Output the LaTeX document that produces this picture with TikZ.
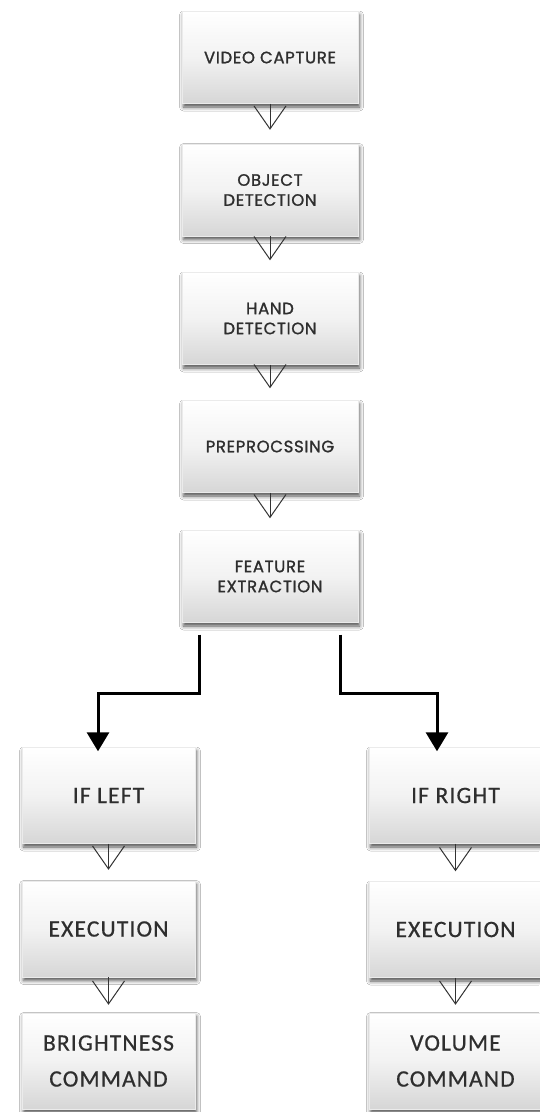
\documentclass[tikz,border=0pt]{standalone}
\usepackage{fontspec}
\setmainfont{Carlito}
\newfontfamily\gothic{Poppins}[LetterSpace=4,FakeBold=1.2]
\newfontfamily\plain{Carlito}[LetterSpace=5,FakeBold=0.6]
\usetikzlibrary{arrows.meta,shadows.blur}

\definecolor{boxtext}{HTML}{2E2E2E}
\definecolor{boxshade}{HTML}{D6D6D6}

\tikzset{
  box/.style={
    rectangle, inner sep=0pt, align=center, text=boxtext,
    top color=white, bottom color=boxshade, middle color=white!95!black,
    draw=black!8, line width=0.4pt,
    blur shadow={shadow xshift=1.5pt, shadow yshift=-3.5pt,
                 shadow blur radius=4pt, shadow opacity=70}},
  upperbox/.style={box, minimum width=176pt, minimum height=92pt,
    font=\gothic\fontsize{16.5}{20}\selectfont},
  lowerbox/.style={box, minimum width=173pt, minimum height=96pt,
    font=\plain\fontsize{23.5}{36}\selectfont},
  smallarrow/.style={draw=black!80, line width=1pt,
    -{Straight Barb[length=23pt,width=32pt,line width=1pt]}},
  bigarrow/.style={draw=black, line width=3pt,
    -{Triangle[length=19pt,width=22pt]}}
}

\begin{document}
\begin{tikzpicture}[x=1pt,y=-1pt]
  \useasboundingbox (0,0) rectangle (539,1112);
  \fill[white] (0,0) rectangle (539,1112);

  % main pipeline
  \node[upperbox] (vc) at (270,57.5) {VIDEO CAPTURE};
  \node[upperbox] (od) at (270,190) {OBJECT\\DETECTION};
  \node[upperbox] (hd) at (270,318.5) {HAND\\DETECTION};
  \node[upperbox] (pp) at (270,446.5) {PREPROCSSING};
  \node[upperbox] (fe) at (270,576.5) {FEATURE\\EXTRACTION};

  % left branch
  \node[lowerbox] (ifl) at (108.5,795.5) {IF LEFT};
  \node[lowerbox] (exl) at (108.5,929) {EXECUTION};
  \node[lowerbox] (brc) at (108.5,1061) {BRIGHTNESS\\COMMAND};

  % right branch
  \node[lowerbox] (ifr) at (455.5,795.5) {IF RIGHT};
  \node[lowerbox] (exr) at (455.5,929.5) {EXECUTION};
  \node[lowerbox] (vol) at (455.5,1061) {VOLUME\\COMMAND};

  % small arrows between stacked boxes
  \draw[smallarrow, shorten >=14pt] (vc.south) -- (od.north);
  \draw[smallarrow, shorten >=12pt] (od.south) -- (hd.north);
  \draw[smallarrow, shorten >=12pt] (hd.south) -- (pp.north);
  \draw[smallarrow, shorten >=12pt] (pp.south) -- (fe.north);
  \draw[smallarrow, shorten >=11pt] (ifl.south) -- (exl.north);
  \draw[smallarrow, shorten >=8pt] (exl.south) -- (brc.north);
  \draw[smallarrow, shorten >=10pt] (ifr.south) -- (exr.north);
  \draw[smallarrow, shorten >=8pt] (exr.south) -- (vol.north);

  % branching connectors
  \draw[bigarrow] ([xshift=18pt,yshift=-12pt]fe.south west)
      |- ([xshift=-10.5pt,yshift=54pt]ifl.north)
      -- ([xshift=-10.5pt,yshift=-4pt]ifl.north);
  \draw[bigarrow] ([xshift=-18pt,yshift=-12pt]fe.south east)
      |- ([xshift=-18.5pt,yshift=54pt]ifr.north)
      -- ([xshift=-18.5pt,yshift=-4pt]ifr.north);
\end{tikzpicture}
\end{document}
